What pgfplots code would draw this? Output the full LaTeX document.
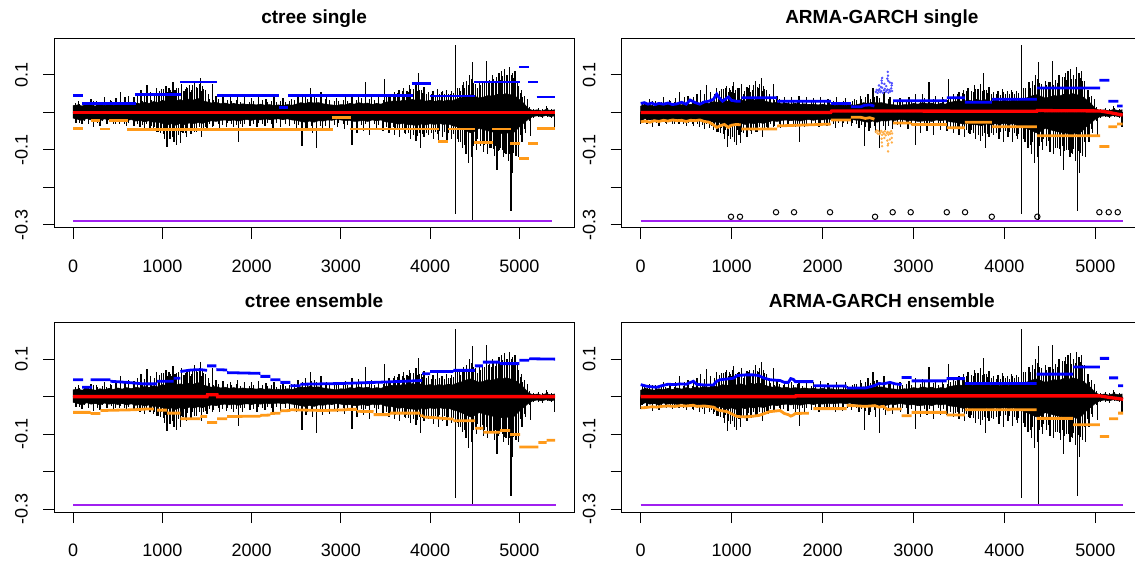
\documentclass[border=0pt]{standalone}
\usepackage{fontspec}
\setmainfont{Liberation Sans}
\usepackage{pgfplots}
\usepackage{pgfplotstable}
\pgfplotsset{compat=1.18}
\definecolor{qblue}{HTML}{0000FF}
\definecolor{qorange}{HTML}{FF9A1A}
\definecolor{qpurple}{HTML}{A020F0}
\definecolor{qred}{HTML}{FF0000}

% ---------- black return series: dense core band (hi/lo envelope) ----------
\pgfplotstableread{
x hi lo
0 0.018 -0.015
50 0.020 -0.018
100 0.017 -0.022
150 0.022 -0.016
200 0.019 -0.020
250 0.017 -0.018
300 0.021 -0.022
350 0.018 -0.017
400 0.022 -0.020
450 0.019 -0.018
500 0.023 -0.021
550 0.020 -0.018
600 0.024 -0.022
650 0.021 -0.019
700 0.025 -0.023
750 0.023 -0.021
800 0.027 -0.025
850 0.024 -0.022
900 0.029 -0.026
950 0.026 -0.025
1000 0.032 -0.029
1050 0.029 -0.033
1100 0.035 -0.030
1150 0.031 -0.034
1200 0.034 -0.029
1250 0.030 -0.032
1300 0.036 -0.028
1350 0.033 -0.030
1400 0.037 -0.027
1450 0.031 -0.029
1500 0.028 -0.025
1550 0.025 -0.022
1600 0.027 -0.024
1650 0.023 -0.021
1700 0.025 -0.020
1750 0.022 -0.022
1800 0.024 -0.020
1850 0.021 -0.023
1900 0.023 -0.020
1950 0.021 -0.019
2000 0.022 -0.021
2050 0.020 -0.018
2100 0.022 -0.020
2150 0.019 -0.017
2200 0.021 -0.019
2250 0.018 -0.018
2300 0.020 -0.017
2350 0.018 -0.019
2400 0.021 -0.017
2450 0.019 -0.020
2500 0.022 -0.021
2550 0.026 -0.024
2600 0.024 -0.026
2650 0.027 -0.023
2700 0.025 -0.026
2750 0.026 -0.022
2800 0.023 -0.023
2850 0.021 -0.020
2900 0.020 -0.021
2950 0.018 -0.018
3000 0.021 -0.020
3050 0.020 -0.022
3100 0.024 -0.021
3150 0.022 -0.024
3200 0.026 -0.023
3250 0.023 -0.021
3300 0.025 -0.024
3350 0.021 -0.020
3400 0.024 -0.022
3450 0.022 -0.020
3500 0.027 -0.025
3550 0.029 -0.026
3600 0.031 -0.028
3650 0.029 -0.031
3700 0.033 -0.029
3750 0.030 -0.032
3800 0.035 -0.033
3850 0.031 -0.035
3900 0.034 -0.031
3950 0.030 -0.033
4000 0.032 -0.030
4050 0.029 -0.032
4100 0.032 -0.029
4150 0.030 -0.032
4200 0.033 -0.030
4250 0.031 -0.035
4300 0.036 -0.038
4350 0.039 -0.043
4400 0.044 -0.048
4450 0.047 -0.054
4500 0.043 -0.050
4550 0.038 -0.042
4600 0.041 -0.046
4650 0.045 -0.049
4700 0.043 -0.052
4750 0.048 -0.054
4800 0.046 -0.056
4850 0.050 -0.053
4900 0.047 -0.058
4950 0.044 -0.051
5000 0.034 -0.038
5050 0.024 -0.028
5100 0.010 -0.018
5150 0.005 -0.011
5200 0.007 -0.009
5250 0.004 -0.011
5300 0.008 -0.008
5350 0.005 -0.011
5394 0.007 -0.009
}\bandtab

% ---------- black return series: medium hairs (x, upper, lower); first two rows before x=100 ----------
\pgfplotstableread{
x u d
25 0.026 -0.024
75 0.022 -0.028
125 0.028 -0.022
175 0.024 -0.027
225 0.030 -0.024
275 0.025 -0.029
325 0.029 -0.023
375 0.026 -0.028
425 0.031 -0.025
475 0.027 -0.030
525 0.032 -0.026
575 0.028 -0.031
625 0.033 -0.027
675 0.029 -0.032
725 0.035 -0.030
775 0.031 -0.034
825 0.037 -0.031
875 0.033 -0.036
910 0.048 -0.040
935 0.058 -0.046
960 0.044 -0.052
985 0.062 -0.042
1010 0.050 -0.058
1035 0.066 -0.048
1060 0.054 -0.064
1085 0.060 -0.050
1110 0.070 -0.056
1135 0.052 -0.066
1160 0.064 -0.048
1185 0.058 -0.060
1210 0.068 -0.052
1235 0.050 -0.046
1260 0.062 -0.056
1285 0.066 -0.044
1310 0.054 -0.050
1335 0.072 -0.042
1360 0.060 -0.052
1385 0.068 -0.046
1410 0.076 -0.040
1435 0.056 -0.048
1460 0.062 -0.042
1485 0.048 -0.038
1525 0.036 -0.032
1575 0.032 -0.035
1625 0.035 -0.030
1675 0.030 -0.033
1725 0.034 -0.029
1775 0.031 -0.032
1825 0.033 -0.034
1875 0.029 -0.030
1925 0.032 -0.031
1975 0.028 -0.029
2025 0.031 -0.032
2075 0.029 -0.028
2125 0.032 -0.030
2175 0.028 -0.027
2225 0.030 -0.031
2275 0.027 -0.028
2325 0.031 -0.029
2375 0.028 -0.030
2425 0.030 -0.028
2475 0.033 -0.031
2525 0.036 -0.034
2575 0.040 -0.038
2625 0.037 -0.041
2675 0.042 -0.036
2725 0.038 -0.040
2775 0.040 -0.035
2825 0.035 -0.036
2875 0.032 -0.031
2925 0.030 -0.033
2975 0.031 -0.029
3025 0.033 -0.031
3075 0.031 -0.034
3125 0.036 -0.032
3175 0.033 -0.036
3225 0.038 -0.033
3275 0.034 -0.032
3325 0.036 -0.035
3375 0.032 -0.031
3425 0.035 -0.033
3475 0.033 -0.030
3510 0.040 -0.040
3535 0.046 -0.036
3560 0.042 -0.044
3585 0.050 -0.040
3610 0.044 -0.048
3635 0.052 -0.042
3660 0.048 -0.050
3685 0.056 -0.046
3710 0.050 -0.054
3735 0.058 -0.048
3760 0.054 -0.056
3785 0.062 -0.050
3810 0.056 -0.060
3835 0.064 -0.052
3860 0.058 -0.062
3885 0.060 -0.054
3910 0.052 -0.058
3935 0.058 -0.050
3960 0.050 -0.056
3985 0.054 -0.048
4010 0.048 -0.054
4035 0.052 -0.046
4060 0.046 -0.052
4085 0.054 -0.058
4110 0.050 -0.050
4135 0.056 -0.056
4160 0.048 -0.052
4185 0.054 -0.060
4210 0.050 -0.054
4235 0.058 -0.062
4260 0.052 -0.058
4310 0.066 -0.070
4335 0.058 -0.080
4360 0.072 -0.074
4385 0.066 -0.088
4410 0.080 -0.080
4435 0.074 -0.095
4460 0.090 -0.085
4485 0.078 -0.090
4510 0.070 -0.080
4535 0.064 -0.072
4560 0.072 -0.082
4585 0.068 -0.076
4610 0.080 -0.088
4635 0.074 -0.080
4660 0.086 -0.094
4685 0.078 -0.086
4710 0.090 -0.098
4735 0.082 -0.090
4760 0.094 -0.104
4785 0.086 -0.094
4810 0.098 -0.100
4835 0.088 -0.108
4860 0.096 -0.098
4885 0.090 -0.110
4910 0.100 -0.102
4935 0.092 -0.108
4960 0.084 -0.096
4985 0.070 -0.080
5010 0.052 -0.060
5035 0.040 -0.050
5060 0.032 -0.045
5110 0.014 -0.022
5160 0.010 -0.015
5210 0.012 -0.013
5260 0.009 -0.016
5310 0.013 -0.012
5360 0.010 -0.015
}\hairtab

% ---------- black return series: large spikes (first two rows lie before x=100) ----------
\pgfplotstableread{
x y
60 0.030
30 -0.028
140 0.028
200 0.035
260 0.030
350 0.040
420 0.034
480 0.038
530 0.055
580 0.040
620 0.045
680 0.042
720 0.050
760 0.060
800 0.048
827 0.073
870 0.055
910 0.050
930 0.065
970 0.058
1010 0.062
1040 0.070
1075 0.066
1100 0.055
1119 0.081
1140 0.060
1180 0.065
1210 0.075
1240 0.058
1270 0.068
1300 0.072
1330 0.060
1360 0.085
1395 0.065
1425 0.093
1450 0.070
1480 0.060
1520 0.050
1560 0.075
1600 0.045
1680 0.042
1760 0.040
1840 0.045
1920 0.040
2000 0.038
2080 0.042
2160 0.036
2250 0.040
2350 0.038
2450 0.035
2520 0.045
2600 0.050
2656 0.066
2700 0.045
2776 0.055
2840 0.040
2950 0.038
3050 0.042
3123 0.050
3200 0.048
3272 0.080
3340 0.045
3420 0.042
3485 0.088
3540 0.050
3600 0.055
3650 0.060
3700 0.065
3740 0.058
3770 0.072
3810 0.062
3840 0.075
3869 0.104
3900 0.060
3930 0.068
3980 0.055
4030 0.058
4080 0.062
4130 0.055
4180 0.060
4230 0.050
4287 0.179
4330 0.065
4370 0.080
4410 0.085
4440 0.100
4478 0.135
4510 0.075
4550 0.085
4590 0.080
4630 0.138
4660 0.085
4700 0.100
4740 0.095
4772 0.106
4800 0.110
4830 0.115
4860 0.100
4890 0.120
4920 0.105
4950 0.110
4980 0.085
5020 0.060
5060 0.045
5090 0.035
5300 0.018
100 -0.032
170 -0.030
230 -0.038
300 -0.035
380 -0.030
450 -0.032
520 -0.030
600 -0.035
680 -0.036
750 -0.040
800 -0.045
860 -0.042
900 -0.047
940 -0.052
980 -0.055
1020 -0.070
1052 -0.091
1085 -0.072
1110 -0.065
1130 -0.080
1155 -0.088
1180 -0.060
1200 -0.082
1230 -0.055
1270 -0.065
1320 -0.058
1380 -0.052
1440 -0.065
1500 -0.045
1560 -0.040
1640 -0.042
1720 -0.038
1800 -0.040
1850 -0.078
1900 -0.040
1980 -0.036
2060 -0.040
2150 -0.035
2240 -0.042
2320 -0.038
2420 -0.036
2500 -0.042
2563 -0.090
2610 -0.050
2680 -0.055
2724 -0.096
2790 -0.048
2870 -0.045
2960 -0.040
3040 -0.045
3123 -0.087
3180 -0.055
3250 -0.050
3320 -0.060
3400 -0.048
3470 -0.050
3540 -0.055
3600 -0.060
3660 -0.065
3720 -0.058
3780 -0.070
3840 -0.075
3888 -0.096
3930 -0.065
3980 -0.060
4040 -0.072
4090 -0.080
4140 -0.065
4190 -0.078
4240 -0.070
4287 -0.271
4320 -0.080
4360 -0.095
4400 -0.110
4430 -0.136
4460 -0.120
4478 -0.289
4520 -0.100
4560 -0.090
4600 -0.105
4640 -0.110
4680 -0.095
4720 -0.115
4750 -0.153
4780 -0.100
4820 -0.120
4850 -0.110
4880 -0.130
4906 -0.264
4924 -0.161
4960 -0.115
4990 -0.120
5030 -0.080
5070 -0.055
5125 -0.062
5394 -0.040
}\spiketab

% ---------- ctree single ----------
\pgfplotstableread{
x y
0 0.046
112 0.046
nan nan
100 0.024
709 0.024
nan nan
697 0.048
1212 0.048
nan nan
1200 0.081
1612 0.081
nan nan
1612 0.046
2302 0.046
nan nan
2302 0.014
2406 0.014
nan nan
2406 0.046
3813 0.046
nan nan
3795 0.077
4011 0.077
nan nan
4000 0.044
4504 0.044
nan nan
4496 0.081
5007 0.081
nan nan
4996 0.121
5111 0.121
nan nan
5100 0.081
5212 0.081
nan nan
5194 0.041
5400 0.041
}\tlblue
\pgfplotstableread{
x y
0 -0.043
112 -0.043
nan nan
194 -0.022
306 -0.022
nan nan
306 -0.044
418 -0.044
nan nan
399 -0.022
615 -0.022
nan nan
604 -0.045
2911 -0.045
nan nan
2899 -0.014
3112 -0.014
nan nan
3097 -0.044
4104 -0.044
nan nan
4093 -0.077
4205 -0.077
nan nan
4198 -0.044
4504 -0.044
nan nan
4496 -0.081
4709 -0.081
nan nan
4697 -0.044
4907 -0.044
nan nan
4896 -0.082
5007 -0.082
nan nan
4996 -0.122
5111 -0.122
nan nan
5100 -0.082
5212 -0.082
nan nan
5194 -0.043
5400 -0.043
}\tlorange

% ---------- ARMA-GARCH single ----------
\pgfplotstableread{
x y
0 0.024
40 0.026
80 0.022
120 0.025
160 0.021
200 0.024
250 0.022
300 0.025
350 0.021
400 0.023
450 0.027
500 0.022
543 0.033
600 0.026
650 0.022
700 0.028
750 0.030
800 0.035
836 0.049
860 0.040
900 0.030
964 0.041
1000 0.032
1050 0.030
1100 0.030
nan nan
1107 0.039
1500 0.039
nan nan
1500 0.030
2090 0.030
nan nan
2090 0.024
2310 0.024
nan nan
2310 0.015
2420 0.015
2460 0.019
2520 0.020
2570 0.017
nan nan
2777 0.031
3366 0.031
nan nan
3366 0.039
3566 0.039
nan nan
3566 0.027
3861 0.027
nan nan
3861 0.035
4356 0.035
nan nan
4356 0.065
5052 0.065
nan nan
5045 0.086
5155 0.086
nan nan
5142 0.030
5252 0.030
nan nan
5240 0.017
5300 0.017
}\trblue
\pgfplotstableread{
x y
0 -0.025
50 -0.023
100 -0.026
150 -0.022
200 -0.024
250 -0.021
300 -0.023
350 -0.020
400 -0.022
450 -0.021
500 -0.024
550 -0.021
600 -0.022
650 -0.020
700 -0.024
750 -0.026
800 -0.033
836 -0.040
870 -0.036
920 -0.032
964 -0.040
1000 -0.034
1050 -0.032
1100 -0.033
nan nan
1107 -0.044
1500 -0.044
nan nan
1500 -0.036
2090 -0.031
nan nan
2090 -0.020
2310 -0.020
nan nan
2310 -0.013
2420 -0.013
2470 -0.016
2520 -0.014
2570 -0.018
nan nan
2777 -0.028
2977 -0.028
nan nan
2977 -0.032
3366 -0.032
nan nan
3366 -0.041
3566 -0.041
nan nan
3566 -0.026
3861 -0.026
nan nan
3861 -0.038
4356 -0.038
nan nan
4356 -0.062
5052 -0.062
nan nan
5045 -0.091
5155 -0.091
nan nan
5142 -0.038
5240 -0.038
nan nan
5240 -0.031
5300 -0.031
}\trorange
\pgfplotstableread{
x y
2585 0.055
2595 0.060
2605 0.052
2615 0.058
2625 0.062
2635 0.054
2645 0.057
2655 0.066
2665 0.052
2675 0.059
2685 0.063
2695 0.055
2705 0.058
2715 0.061
2725 0.053
2735 0.060
2745 0.056
2755 0.064
2765 0.057
2620 0.072
2650 0.085
2652 0.078
2655 0.092
2680 0.076
2712 0.090
2717 0.108
2720 0.098
2722 0.084
2740 0.080
2760 0.072
2762 0.078
2640 0.068
2700 0.070
}\trbdots
\pgfplotstableread{
x y
2585 -0.052
2595 -0.048
2605 -0.056
2615 -0.050
2625 -0.058
2635 -0.054
2645 -0.049
2655 -0.060
2665 -0.053
2675 -0.057
2685 -0.050
2695 -0.061
2705 -0.055
2715 -0.052
2725 -0.059
2735 -0.054
2745 -0.057
2755 -0.050
2765 -0.056
2650 -0.070
2652 -0.080
2655 -0.090
2680 -0.068
2712 -0.075
2717 -0.088
2720 -0.104
2722 -0.083
2740 -0.072
2760 -0.068
2762 -0.080
}\trodots
\pgfplotstableread{
x y
993 -0.278
1092 -0.278
1488 -0.266
1686 -0.266
2082 -0.266
2577 -0.278
2771 -0.266
2969 -0.266
3366 -0.266
3567 -0.266
3861 -0.278
4362 -0.278
5044 -0.266
5147 -0.266
5246 -0.266
}\trcircles

% ---------- ctree ensemble ----------
\pgfplotstableread{
x y
0 0.045
112 0.045
nan nan
100 0.025
212 0.025
nan nan
194 0.045
418 0.045
nan nan
418 0.041
600 0.038
791 0.034
940 0.034
nan nan
940 0.041
1126 0.041
nan nan
1126 0.049
1201 0.049
nan nan
1201 0.067
1320 0.071
1425 0.072
1500 0.070
nan nan
1500 0.082
1604 0.082
nan nan
1604 0.072
1724 0.071
nan nan
1724 0.064
2097 0.062
nan nan
2097 0.054
2209 0.054
nan nan
2209 0.045
2321 0.045
nan nan
2321 0.038
2433 0.038
nan nan
2433 0.029
2545 0.029
nan nan
2545 0.033
3000 0.035
3500 0.039
3910 0.043
nan nan
3910 0.061
4000 0.061
nan nan
4000 0.067
4260 0.067
nan nan
4260 0.070
4500 0.070
nan nan
4500 0.082
4590 0.082
nan nan
4590 0.092
4780 0.092
nan nan
4780 0.088
5000 0.088
nan nan
5000 0.097
5110 0.097
nan nan
5110 0.101
5400 0.100
}\blblue
\pgfplotstableread{
x y
0 -0.042
194 -0.042
nan nan
194 -0.045
306 -0.045
nan nan
306 -0.037
679 -0.035
828 -0.033
903 -0.033
nan nan
940 -0.036
1052 -0.036
nan nan
1052 -0.044
1201 -0.044
nan nan
1201 -0.059
1425 -0.059
nan nan
1425 -0.053
1500 -0.053
nan nan
1500 -0.069
1612 -0.069
nan nan
1612 -0.059
1724 -0.059
nan nan
1724 -0.053
2097 -0.052
nan nan
2097 -0.050
2209 -0.049
nan nan
2209 -0.045
2321 -0.044
nan nan
2321 -0.038
2433 -0.037
nan nan
2433 -0.035
2806 -0.037
3067 -0.035
nan nan
3067 -0.034
3179 -0.034
nan nan
3179 -0.039
3365 -0.040
nan nan
3365 -0.048
3552 -0.048
nan nan
3552 -0.044
3888 -0.044
nan nan
3888 -0.051
3925 -0.051
nan nan
3925 -0.054
4261 -0.060
nan nan
4261 -0.064
4504 -0.064
nan nan
4504 -0.084
4597 -0.084
nan nan
4597 -0.095
4783 -0.095
nan nan
4783 -0.090
4895 -0.090
nan nan
4895 -0.101
5007 -0.101
nan nan
5000 -0.134
5212 -0.134
nan nan
5212 -0.122
5306 -0.122
nan nan
5306 -0.116
5400 -0.116
}\blorange

% ---------- ARMA-GARCH ensemble ----------
\pgfplotstableread{
x y
0 0.032
60 0.028
120 0.026
176 0.025
230 0.029
300 0.033
380 0.032
433 0.034
500 0.033
579 0.041
616 0.033
700 0.031
800 0.031
830 0.040
873 0.045
950 0.047
1019 0.049
1060 0.056
1150 0.058
1239 0.058
1300 0.056
1349 0.050
1420 0.045
1532 0.043
1580 0.038
1624 0.038
1650 0.048
1679 0.046
1700 0.040
1899 0.040
nan nan
1899 0.029
2265 0.028
nan nan
2265 0.023
2470 0.023
2520 0.026
2575 0.030
2620 0.035
2667 0.034
2740 0.038
2800 0.034
2869 0.032
nan nan
2869 0.051
2979 0.051
nan nan
2979 0.042
3364 0.042
nan nan
3364 0.048
3565 0.048
nan nan
3565 0.035
4353 0.035
nan nan
4353 0.060
4756 0.060
nan nan
4756 0.079
5050 0.079
nan nan
5050 0.102
5152 0.102
nan nan
5152 0.050
5251 0.050
nan nan
5251 0.029
5306 0.029
}\brblue
\pgfplotstableread{
x y
0 -0.030
60 -0.029
120 -0.027
176 -0.028
230 -0.026
300 -0.025
380 -0.026
433 -0.024
500 -0.025
579 -0.023
616 -0.026
700 -0.025
800 -0.028
830 -0.033
873 -0.037
950 -0.040
1019 -0.048
1060 -0.053
1150 -0.054
1239 -0.052
1300 -0.050
1349 -0.046
1420 -0.040
1532 -0.037
1580 -0.045
1624 -0.048
1650 -0.052
1679 -0.049
1700 -0.045
1850 -0.044
nan nan
1899 -0.032
2265 -0.032
nan nan
2265 -0.023
2470 -0.026
2575 -0.024
2620 -0.028
2667 -0.026
2720 -0.035
2760 -0.033
2869 -0.033
nan nan
2869 -0.051
2979 -0.051
nan nan
2979 -0.042
3364 -0.042
nan nan
3364 -0.049
3565 -0.049
nan nan
3565 -0.035
4353 -0.035
nan nan
4353 -0.058
4756 -0.058
nan nan
4756 -0.075
5050 -0.075
nan nan
5050 -0.106
5152 -0.106
nan nan
5152 -0.059
5251 -0.059
nan nan
5251 -0.044
5306 -0.044
}\brorange

\pgfplotsset{
 rpanel/.style={
  scale only axis, width=520.3pt, height=189.7pt,
  ymin=-0.308, ymax=0.1976,
  ytick={-0.3,-0.2,-0.1,0,0.1}, yticklabels={-0.3,,-0.1,,0.1},
  xtick={0,1000,2000,3000,4000,5000}, xticklabels={0,1000,2000,3000,4000,5000},
  tick align=outside, xtick pos=left, ytick pos=left,
  major tick length=11pt,
  tick style={black, line width=1pt},
  axis line style={black, line width=1pt},
  ticklabel style={font=\fontsize{18}{20}\selectfont, inner sep=0pt},
  yticklabel style={xshift=-15pt, rotate=90, anchor=south},
  xticklabel style={anchor=north, yshift=-21pt},
  title style={font=\bfseries\fontsize{19}{22}\selectfont, at={(0.5,1)}, anchor=base, yshift=9pt},
 },
 leftp/.style={rpanel, xmin=-215, xmax=5615},
 rightp/.style={rpanel, xmin=-209, xmax=5513},
 seg/.style={unbounded coords=jump, line width=2.8pt},
 bandfill/.style={fill=black, draw=black, line width=0.6pt},
 hair/.style={ycomb, black, line width=1pt},
 spike/.style={ycomb, black, line width=1.3pt},
 shifted/.style={skip coords between index={0}{2}},
}

\begin{document}
\begin{tikzpicture}

% ===== ctree single =====
\begin{axis}[leftp, at={(54pt,334pt)}, anchor=south west, title={ctree single}]
\addplot[bandfill] table[x=x,y=hi]{\bandtab} \closedcycle;
\addplot[bandfill] table[x=x,y=lo]{\bandtab} \closedcycle;
\addplot[hair] table[x=x,y=u]{\hairtab};
\addplot[hair] table[x=x,y=d]{\hairtab};
\addplot[spike] table[x=x,y=y]{\spiketab};
\addplot[qred, line width=3.3pt] coordinates {(0,0) (5400,0)};
\addplot[qblue, seg] table[x=x,y=y]{\tlblue};
\addplot[qorange, seg] table[x=x,y=y]{\tlorange};
\addplot[qpurple, line width=2pt] coordinates {(0,-0.289) (5362,-0.289)};
\end{axis}

% ===== ARMA-GARCH single =====
\begin{axis}[rightp, at={(621.7pt,334pt)}, anchor=south west, title={ARMA-GARCH single}]
\addplot[bandfill, shifted] table[x expr=\thisrow{x}-100,y=hi]{\bandtab} \closedcycle;
\addplot[bandfill, shifted] table[x expr=\thisrow{x}-100,y=lo]{\bandtab} \closedcycle;
\addplot[hair, shifted] table[x expr=\thisrow{x}-100,y=u]{\hairtab};
\addplot[hair, shifted] table[x expr=\thisrow{x}-100,y=d]{\hairtab};
\addplot[spike, shifted] table[x expr=\thisrow{x}-100,y=y]{\spiketab};
\addplot[qred, line width=3.3pt] coordinates {(0,0) (2090,0) (2100,0.004) (4356,0.003) (4360,0.005) (5050,0.004) (5150,0) (5300,-0.007)};
\addplot[qblue, seg] table[x=x,y=y]{\trblue};
\addplot[qorange, seg] table[x=x,y=y]{\trorange};
\addplot[only marks, mark=*, mark size=1pt, qblue!70] table[x=x,y=y]{\trbdots};
\addplot[only marks, mark=*, mark size=1pt, qorange!80] table[x=x,y=y]{\trodots};
\addplot[qpurple, line width=2pt] coordinates {(0,-0.289) (5301,-0.289)};
\addplot[only marks, mark=o, mark size=2.7pt, black, line width=1pt] table[x=x,y=y]{\trcircles};
\end{axis}

% ===== ctree ensemble =====
\begin{axis}[leftp, at={(54pt,49.8pt)}, anchor=south west, title={ctree ensemble}]
\addplot[bandfill] table[x=x,y=hi]{\bandtab} \closedcycle;
\addplot[bandfill] table[x=x,y=lo]{\bandtab} \closedcycle;
\addplot[hair] table[x=x,y=u]{\hairtab};
\addplot[hair] table[x=x,y=d]{\hairtab};
\addplot[spike] table[x=x,y=y]{\spiketab};
\addplot[qred, line width=3.3pt] coordinates {(0,0) (1500,0) (1505,0.005) (1612,0.005) (1617,0) (5400,0)};
\addplot[qblue, seg] table[x=x,y=y]{\blblue};
\addplot[qorange, seg] table[x=x,y=y]{\blorange};
\addplot[qpurple, line width=2pt] coordinates {(0,-0.289) (5410,-0.289)};
\end{axis}

% ===== ARMA-GARCH ensemble =====
\begin{axis}[rightp, at={(621.7pt,49.8pt)}, anchor=south west, title={ARMA-GARCH ensemble}]
\addplot[bandfill, shifted] table[x expr=\thisrow{x}-100,y=hi]{\bandtab} \closedcycle;
\addplot[bandfill, shifted] table[x expr=\thisrow{x}-100,y=lo]{\bandtab} \closedcycle;
\addplot[hair, shifted] table[x expr=\thisrow{x}-100,y=u]{\hairtab};
\addplot[hair, shifted] table[x expr=\thisrow{x}-100,y=d]{\hairtab};
\addplot[spike, shifted] table[x expr=\thisrow{x}-100,y=y]{\spiketab};
\addplot[qred, line width=3.3pt] coordinates {(0,0) (1700,0) (1705,0.002) (5050,0.002) (5150,-0.002) (5306,-0.007)};
\addplot[qblue, seg] table[x=x,y=y]{\brblue};
\addplot[qorange, seg] table[x=x,y=y]{\brorange};
\addplot[qpurple, line width=2pt] coordinates {(0,-0.289) (5306,-0.289)};
\end{axis}
\pgfresetboundingbox
\path[use as bounding box] (0pt,0pt) rectangle (1135pt,562pt);
\end{tikzpicture}
\end{document}
